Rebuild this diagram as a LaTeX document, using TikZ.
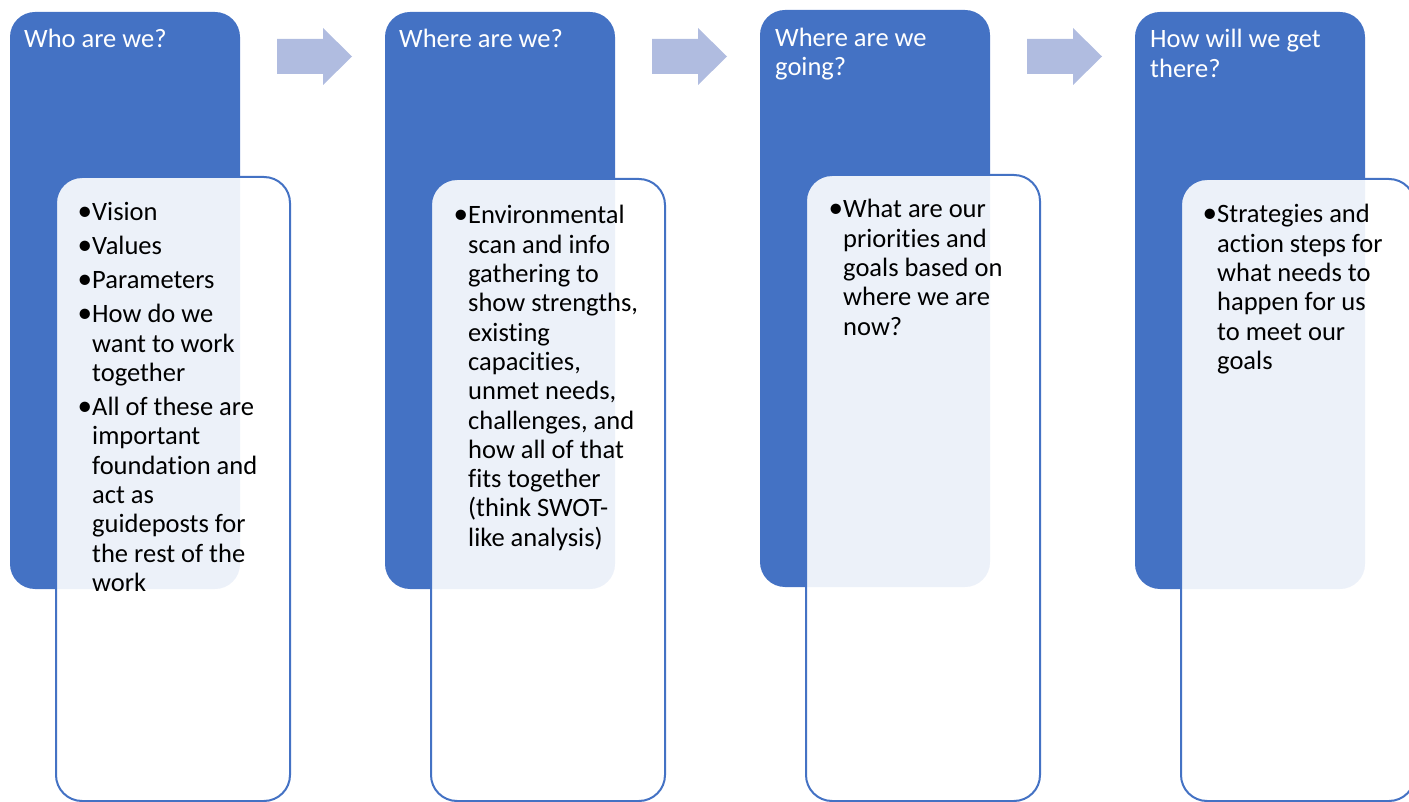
\documentclass[tikz,border=0pt]{standalone}
\usepackage{fontspec}
\setmainfont{Carlito}[Ligatures={NoCommon,NoContextual}]
\definecolor{accent}{HTML}{4472C4}
\definecolor{arrowc}{RGB}{176,188,224}
\tikzset{
  backbox/.style={fill=accent, draw=none, rounded corners=25pt, inner sep=0pt, outer sep=0pt, anchor=north west},
  frontbox/.style={fill=white, fill opacity=0.9, draw=accent, draw opacity=1, line width=2pt, rounded corners=26pt, inner sep=0pt, outer sep=0pt, anchor=north west},
  ttl/.style={anchor=base west, inner sep=0pt, text=white, font=\fontsize{26.5}{29.3}\selectfont},
  bodytxt/.style={anchor=base west, inner sep=0pt, text=black, font=\fontsize{26.5}{29.3}\selectfont},
  flow/.style={fill=arrowc, draw=none},
}
\newcommand{\bl}{\makebox[12pt][l]{\hspace*{-2.5pt}\raisebox{0.5pt}{\scalebox{1.1}{•}}}}
\newcommand{\ind}{\hspace*{12pt}}
\newcommand{\pbox}[1]{\parbox[t]{320pt}{\raggedright #1}}
\begin{document}
\begin{tikzpicture}[x=1pt,y=-1pt]
\useasboundingbox (0,0) rectangle (1409,802);
\begin{scope}
\clip (0,0) rectangle (1409,802);
% back (blue) boxes
\node[backbox, minimum width=230pt, minimum height=577pt] (b1) at (10,12) {};
\node[backbox, minimum width=230pt, minimum height=577pt] (b2) at (385,12) {};
\node[backbox, minimum width=230pt, minimum height=577pt] (b3) at (760,10) {};
\node[backbox, minimum width=230pt, minimum height=577pt] (b4) at (1135,12) {};
% front (light) boxes
\node[frontbox, minimum width=234pt, minimum height=624pt] (f1) at (56,177) {};
\node[frontbox, minimum width=234pt, minimum height=622pt] (f2) at (431,179) {};
\node[frontbox, minimum width=234pt, minimum height=626pt] (f3) at (806,175) {};
\node[frontbox, minimum width=234pt, minimum height=622pt] (f4) at (1181,179) {};
\end{scope}
% arrows
\foreach \dx in {0,375,750}{
  \begin{scope}[xshift=\dx pt]
    \path[flow] (277,39) -- (323,39) -- (323,28) -- (352,56.5) -- (323,85) -- (323,74) -- (277,74) -- cycle;
  \end{scope}
}
% titles
\node[ttl] (t1) at (24,48) {\pbox{Who are we?}};
\node[ttl] (t2) at (399,48) {\pbox{Where are we?}};
\node[ttl] (t3) at (775,46.7) {\pbox{Where are we\\going?}};
\node[ttl] (t4) at (1150,48) {\pbox{How will we get\\there?}};
% bodies
\node[bodytxt] (c1) at (80,221) {\pbox{\bl Vision\\[4.7pt]
\bl Values\\[4.7pt]
\bl Parameters\\[4.7pt]
\bl How do we\\ \ind want to work\\ \ind together\\[4.7pt]
\bl All of these are\\ \ind important\\ \ind foundation and\\ \ind act as\\ \ind guideposts for\\ \ind the rest of the\\ \ind work}};
\node[bodytxt] (c2) at (456,224) {\pbox{\bl Environmental\\ \ind scan and info\\ \ind gathering to\\ \ind show strengths,\\ \ind existing\\ \ind capacities,\\ \ind unmet needs,\\ \ind challenges, and\\ \ind how all of that\\ \ind fits together\\ \ind (think SWOT-\\ \ind like analysis)}};
\node[bodytxt] (c3) at (831,218) {\pbox{\bl What are our\\ \ind priorities and\\ \ind goals based on\\ \ind where we are\\ \ind now?}};
\node[bodytxt] (c4) at (1205,223) {\pbox{\bl Strategies and\\ \ind action steps for\\ \ind what needs to\\ \ind happen for us\\ \ind to meet our\\ \ind goals}};
\end{tikzpicture}
\end{document}
